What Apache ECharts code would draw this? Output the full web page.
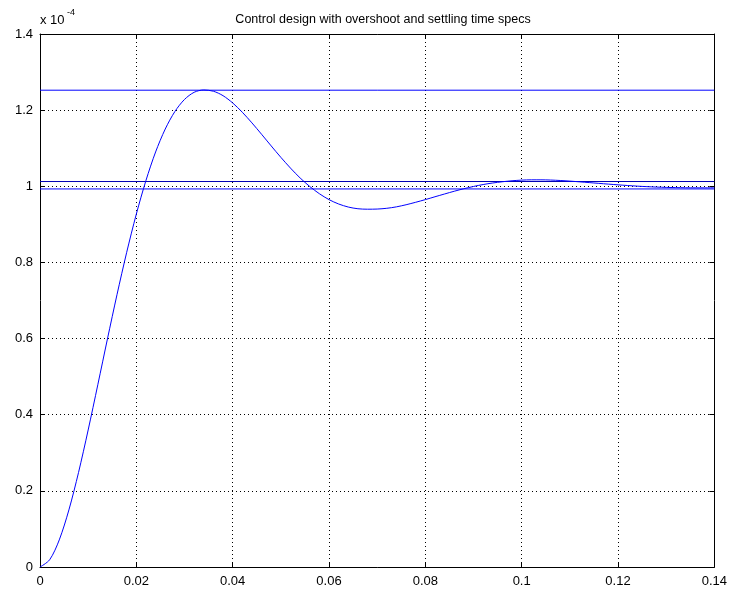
<!DOCTYPE html>
<html>
<head>
<meta charset="utf-8">
<script src="https://cdn.jsdelivr.net/npm/echarts@6/dist/echarts.min.js"></script>
<style>
  html, body { margin: 0; padding: 0; background: #fff; }
  #chart { width: 730px; height: 592px; }
</style>
</head>
<body>
<div id="chart"></div>
<script>
// time axis (s) and step response, in units of 1e-4
var tValues = [
  0, 0.002, 0.004, 0.006, 0.008, 0.010, 0.012, 0.014, 0.016, 0.018,
  0.020, 0.022, 0.024, 0.026, 0.028, 0.030, 0.032, 0.034, 0.036, 0.038,
  0.040, 0.042, 0.044, 0.046, 0.048, 0.050, 0.052, 0.054, 0.056, 0.058,
  0.060, 0.062, 0.064, 0.066, 0.068, 0.070, 0.072, 0.074, 0.076, 0.078,
  0.080, 0.082, 0.084, 0.086, 0.088, 0.090, 0.092, 0.094, 0.096, 0.098,
  0.100, 0.102, 0.104, 0.106, 0.108, 0.110, 0.112, 0.114, 0.116, 0.118,
  0.120, 0.122, 0.124, 0.126, 0.128, 0.130, 0.132, 0.134, 0.136, 0.138,
  0.140
];
var response = [
  0, 0.0189, 0.0712, 0.1499, 0.2483, 0.3599, 0.4786, 0.5989, 0.7162, 0.8266,
  0.9271, 1.0154, 1.0901, 1.1504, 1.1963, 1.2281, 1.2469, 1.2530, 1.2497, 1.2380,
  1.2189, 1.1945, 1.1665, 1.1366, 1.1060, 1.0761, 1.0478, 1.0219, 0.9995, 0.9805,
  0.9650, 0.9535, 0.9455, 0.9410, 0.9398, 0.9402, 0.9422, 0.9460, 0.9515, 0.9580,
  0.9650, 0.9725, 0.9798, 0.9870, 0.9936, 0.9995, 1.0046, 1.0087, 1.0119, 1.0145,
  1.0162, 1.0170, 1.0170, 1.0164, 1.0152, 1.0136, 1.0117, 1.0097, 1.0077, 1.0057,
  1.0038, 1.0020, 1.0004, 0.9990, 0.9979, 0.9971, 0.9965, 0.9961, 0.9959, 0.9959,
  0.9960
];
// horizontal spec lines: overshoot limit, settling band
var specLevels = [1.2524, 1.0125, 0.993];
var specColors = ['#0000ff', '#0000b4', '#0000ff'];
var xRange = [0, 0.14];
var xTicks = [0, 0.02, 0.04, 0.06, 0.08, 0.1, 0.12, 0.14];
var yTicks = [0, 0.2, 0.4, 0.6, 0.8, 1, 1.2, 1.4];

var chart = echarts.init(document.getElementById('chart'));

var font = 'Liberation Sans, Arial, Helvetica, sans-serif';
var gridDots = { show: true, lineStyle: { color: '#000', width: 1, type: [1, 3] } };

function axisCommon(labels) {
  return {
    type: 'value',
    axisLine: { show: true, onZero: false, lineStyle: { color: '#000', width: 1 } },
    axisTick: { show: true, inside: true, length: 5, lineStyle: { color: '#000' } },
    axisLabel: { show: labels, color: '#000', fontFamily: font, fontSize: 13 },
    splitLine: { show: false }
  };
}

var xMain = axisCommon(true);
xMain.min = xTicks[0]; xMain.max = xTicks[xTicks.length - 1]; xMain.interval = 0.02;
xMain.position = 'bottom';
xMain.splitLine = gridDots;
xMain.axisLabel.margin = 8;
var xTop = axisCommon(false);
xTop.min = xMain.min; xTop.max = xMain.max; xTop.interval = 0.02; xTop.position = 'top';

var yMain = axisCommon(true);
yMain.min = yTicks[0]; yMain.max = yTicks[yTicks.length - 1]; yMain.interval = 0.2;
yMain.position = 'left';
yMain.splitLine = gridDots;
yMain.axisLabel.margin = 7;
var yRight = axisCommon(false);
yRight.min = yMain.min; yRight.max = yMain.max; yRight.interval = 0.2; yRight.position = 'right';

var series = [];
specLevels.forEach(function (v, i) {
  series.push({
    type: 'line',
    data: xRange.map(function (x) { return [x, v]; }),
    symbol: 'none',
    silent: true,
    lineStyle: { color: specColors[i], width: 1 }
  });
});
series.push({
  type: 'line',
  data: tValues.map(function (t, i) { return [t, response[i]]; }),
  symbol: 'none',
  smooth: 0.3,
  lineStyle: { color: '#0000ff', width: 1 }
});

var option = {
  animation: false,
  backgroundColor: '#fff',
  title: {
    text: 'Control design with overshoot and settling time specs',
    left: 378, top: 8, textAlign: 'center',
    textStyle: { fontFamily: font, fontSize: 12.5, fontWeight: 'normal', color: '#000' }
  },
  grid: { left: 40, right: 14, top: 34, bottom: 25, containLabel: false },
  xAxis: [xMain, xTop],
  yAxis: [yMain, yRight],
  graphic: [
    { type: 'text', left: 40, top: 14, style: { text: 'x 10', fontFamily: font, fontSize: 13, fill: '#000' } },
    { type: 'text', left: 67, top: 8, style: { text: '-4', fontFamily: font, fontSize: 9, fill: '#000' } }
  ],
  series: series
};

chart.setOption(option);
</script>
</body>
</html>
